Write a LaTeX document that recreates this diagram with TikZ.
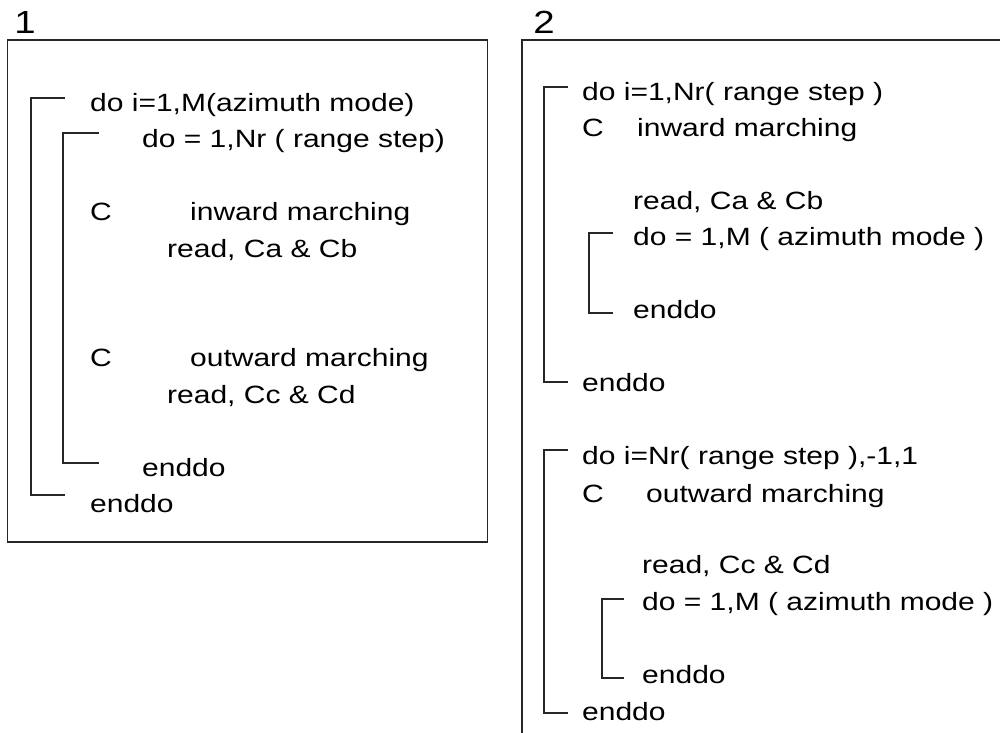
\documentclass[tikz,border=0pt]{standalone}
\usepackage{fontspec}
\setmainfont[FakeStretch=1.2]{Liberation Sans}
\tikzstyle{code} = [anchor=base west, inner sep=0pt, font=\fontsize{25}{30}\selectfont]
\tikzstyle{tag} = [anchor=base, inner sep=0pt, font=\fontsize{32}{38}\selectfont]
\tikzstyle{frame} = [line width=1.8pt, draw=black!85]
\tikzstyle{loop} = [line width=1.4pt, draw=black!85]

\begin{document}
\begin{tikzpicture}[x=1pt, y=-1pt]
\useasboundingbox (0,0) rectangle (1000,732);
\clip (0,0) rectangle (1000,732);

% version 1
\node (t1) [tag] at (25,33) {1};
\draw [frame] (7.5,40) rectangle (487.5,542);

\node (a1) [code] at (90,111) {do i=1,M(azimuth mode)};
\node (a2) [code] at (142,147) {do = 1,Nr ( range step)};
\node (a3) [code] at (90,220) {C};
\node (a4) [code] at (190,220) {inward marching};
\node (a5) [code] at (167,257) {read, Ca \& Cb};
\node (a6) [code] at (90,366) {C};
\node (a7) [code] at (190,366) {outward marching};
\node (a8) [code] at (167,403) {read, Cc \& Cd};
\node (a9) [code] at (142,476) {enddo};
\node (a10) [code] at (90,512) {enddo};

\draw [loop] (65,98) -| (31,495) -- (65,495);
\draw [loop] (99,133) -| (63,463) -- (99,463);

% version 2
\node (t2) [tag] at (544,33) {2};
\draw [frame] (522,40) rectangle (1020,760);

\node (b1) [code] at (582,100) {do i=1,Nr( range step )};
\node (b2) [code] at (582,136) {C};
\node (b3) [code] at (637,136) {inward marching};
\node (b4) [code] at (633,209) {read, Ca \& Cb};
\node (b5) [code] at (633,245) {do = 1,M ( azimuth mode )};
\node (b6) [code] at (633,318) {enddo};
\node (b7) [code] at (582,391) {enddo};

\draw [loop] (568,87) -| (544,382) -- (568,382);
\draw [loop] (613,233) -| (589,313) -- (613,313);

\node (c1) [code] at (582,464) {do i=Nr( range step ),-1,1};
\node (c2) [code] at (582,502) {C};
\node (c3) [code] at (646,502) {outward marching};
\node (c4) [code] at (642,573) {read, Cc \& Cd};
\node (c5) [code] at (642,610) {do = 1,M ( azimuth mode )};
\node (c6) [code] at (642,683) {enddo};
\node (c7) [code] at (582,720) {enddo};

\draw [loop] (568,450) -| (544,713) -- (568,713);
\draw [loop] (624,599) -| (602,678) -- (624,678);

\end{tikzpicture}
\end{document}
